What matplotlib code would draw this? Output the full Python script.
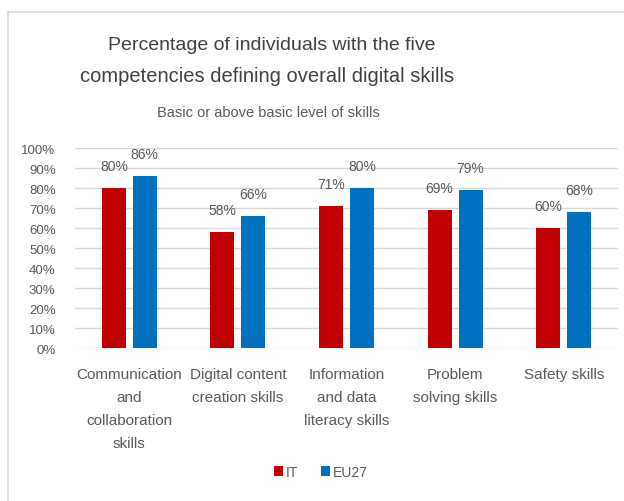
"""Percentage of individuals with the five digital competencies, IT vs EU27."""

import matplotlib

matplotlib.use("Agg")
import matplotlib.pyplot as plt
import numpy as np
from matplotlib.lines import Line2D
from matplotlib.ticker import FuncFormatter

categories = [
    "Communication\nand\ncollaboration\nskills",
    "Digital content\ncreation skills",
    "Information\nand data\nliteracy skills",
    "Problem\nsolving skills",
    "Safety skills",
]
it_values = [80, 58, 71, 69, 60]
eu_values = [86, 66, 80, 79, 68]
series_names = ["IT", "EU27"]

RED = "#C00000"
BLUE = "#0070C0"
TEXT = "#595959"
GRID = "#D9D9D9"

plt.rcParams["font.family"] = ["Liberation Sans", "DejaVu Sans"]

fig = plt.figure(figsize=(6.24, 5.02), dpi=100)
W, H = 624, 502

# frame around the chart (top and left edges visible)
fig.add_artist(Line2D([8 / W, 1], [1 - 13 / H, 1 - 13 / H], color="#D9D9D9", lw=1.2))
fig.add_artist(Line2D([8 / W, 8 / W], [0, 1 - 13 / H], color="#D9D9D9", lw=1.2))

ax = fig.add_axes([75 / W, 1 - 349 / H, 543 / W, 200 / H])

x = np.arange(len(categories))
bw = 0.22
gap = 0.065
off = (bw + gap) / 2
b1 = ax.bar(x - off, it_values, bw, color=RED, label=series_names[0], zorder=3)
b2 = ax.bar(x + off, eu_values, bw, color=BLUE, label=series_names[1], zorder=3)

for bars in (b1, b2):
    ax.bar_label(bars, labels=[f"{v:.0f}%" for v in bars.datavalues],
                 padding=11, color=TEXT, fontsize=10)

ax.set_xlim(-0.5, len(categories) - 0.5)
ax.set_ylim(0, 100)
ax.set_yticks(range(0, 101, 10))
ax.yaxis.set_major_formatter(FuncFormatter(lambda v, _: f"{v:.0f}%"))
ax.grid(axis="y", color=GRID, lw=1, zorder=0)
ax.set_xticks(x)
ax.set_xticklabels(categories, linespacing=1.8, va="top")
ax.tick_params(axis="both", length=0, colors=TEXT, labelsize=11)
ax.tick_params(axis="x", pad=14)
ax.tick_params(axis="y", pad=14, labelsize=9.5)
for s in ax.spines.values():
    s.set_visible(False)

fig.text(272 / W, 1 - 45 / H, "Percentage of individuals with the five",
         ha="center", va="center", fontsize=14, color="#404040")
fig.text(267 / W, 1 - 76 / H, "competencies defining overall digital skills",
         ha="center", va="center", fontsize=14.5, color="#404040")
fig.text(268 / W, 1 - 113 / H, "Basic or above basic level of skills",
         ha="center", va="center", fontsize=10.5, color=TEXT)

fig.legend(loc="center", bbox_to_anchor=(321 / W, 1 - 473 / H), ncol=2,
           frameon=False, fontsize=10, handlelength=0.65, handleheight=0.65,
           handletextpad=0.25, columnspacing=1.6, labelcolor=TEXT)

fig.savefig("out.png", dpi=100)
